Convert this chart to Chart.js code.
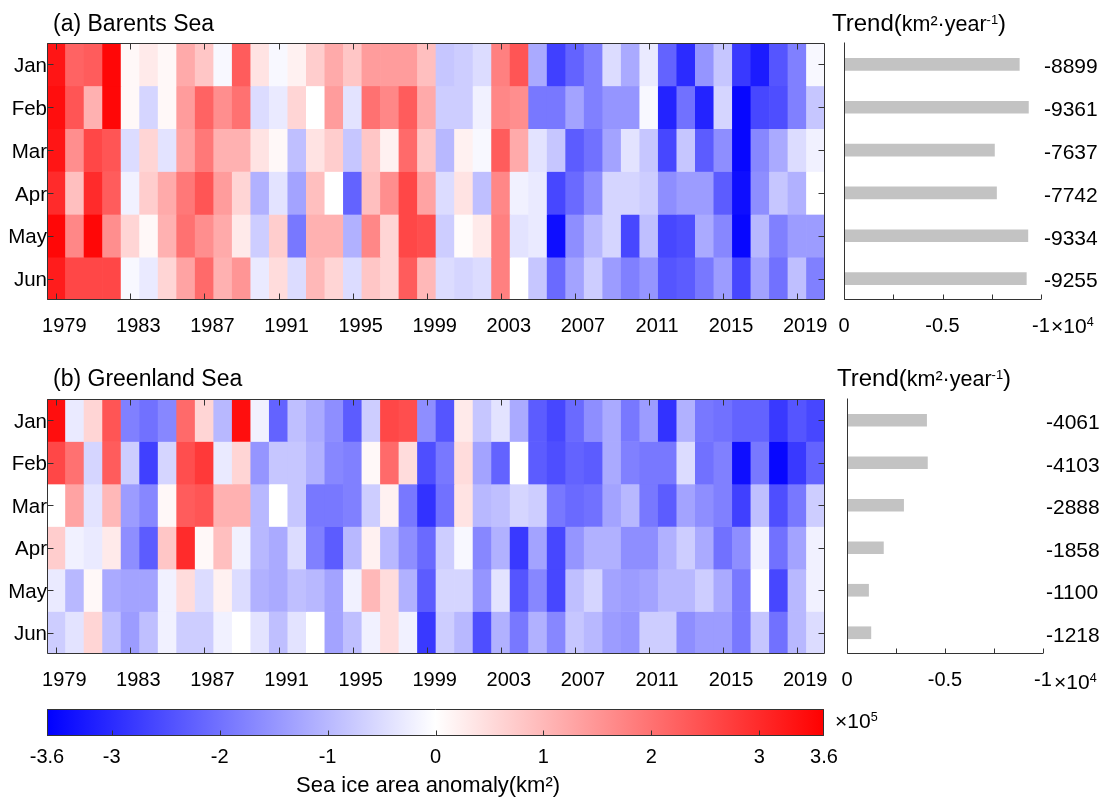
<!DOCTYPE html>
<html>
<head>
<meta charset="utf-8">
<script src="https://cdn.jsdelivr.net/npm/chart.js@4.4.1/dist/chart.umd.min.js"></script>
<style>
  html, body { margin: 0; padding: 0; background: #fff; }
  #page { position: relative; width: 1107px; height: 798px; overflow: hidden; font-family: 'Liberation Sans', Arial, sans-serif; color: #000; }
  canvas { position: absolute; }
  .txt { position: absolute; white-space: nowrap; line-height: 1; }
  sup { font-size: 0.6em; vertical-align: 0.55em; line-height: 0; }
</style>
</head>
<body>
<div id="page">
  <canvas id="heatA" width="840" height="345" style="left:0px;top:0px;"></canvas>
  <canvas id="barA" width="277" height="345" style="left:830px;top:0px;"></canvas>
  <canvas id="heatB" width="840" height="343" style="left:0px;top:356px;"></canvas>
  <canvas id="barB" width="274" height="343" style="left:833px;top:356px;"></canvas>
  <canvas id="cbar" width="900" height="98" style="left:0px;top:700px;"></canvas>

  <div class="txt" style="left:53px;top:12px;font-size:23px;">(a) Barents Sea</div>
  <div class="txt" style="left:832px;top:11px;font-size:24px;">Trend(<span style="font-size:21.5px;">km²·year<sup>-1</sup></span>)</div>
  <div class="txt" style="left:53px;top:367px;font-size:23px;">(b) Greenland Sea</div>
  <div class="txt" style="left:837px;top:366px;font-size:24px;">Trend(<span style="font-size:21.5px;">km²·year<sup>-1</sup></span>)</div>
  <div class="txt" style="left:1051px;top:315px;font-size:21px;">×10<sup>4</sup></div>
  <div class="txt" style="left:1054px;top:671px;font-size:21px;">×10<sup>4</sup></div>
  <div class="txt" style="left:835px;top:710px;font-size:21px;">×10<sup>5</sup></div>
  <div class="txt" style="left:296px;top:774px;font-size:22px;">Sea ice area anomaly(km²)</div>
</div>
<script>
// ---------------- DATA ----------------
const years = [1979,1980,1981,1982,1983,1984,1985,1986,1987,1988,1989,1990,1991,1992,1993,1994,1995,1996,1997,1998,1999,2000,2001,2002,2003,2004,2005,2006,2007,2008,2009,2010,2011,2012,2013,2014,2015,2016,2017,2018,2019,2020];
const months = ['Jan','Feb','Mar','Apr','May','Jun'];

// Sea ice area anomaly (x10^5 km^2), Barents Sea
const barentsJan = [3.3,2.2,2.3,3.5,0.1,0.3,0.1,1.2,0.8,-0.1,2.3,0.4,-0.1,0.2,0.7,1.2,0.8,1.4,1.4,1.4,0.9,-0.8,-0.7,-0.5,1.8,2.4,-1.2,-2.7,-2.2,-1.8,-0.5,-1.2,-0.3,-2.2,-3.0,-1.5,-0.8,-2.8,-3.2,-2.4,-1.8,-0.1];
const barentsFeb = [3.4,2.4,1.1,3.5,0.1,-0.6,0.1,1.4,2.2,1.6,2.0,-0.5,-0.3,0.6,0.0,1.4,-0.4,2.0,1.7,2.3,1.2,-0.7,-0.7,-0.2,1.7,1.6,-1.9,-1.9,-1.3,-1.8,-1.5,-1.5,-0.1,-3.1,-2.0,-3.1,-0.6,-3.5,-2.6,-2.5,-1.8,-0.8];
const barentsMar = [3.3,1.6,2.6,2.4,-0.5,0.6,-0.4,1.3,1.9,1.1,1.1,0.4,0.1,-0.9,0.4,0.7,-0.8,0.8,0.2,2.1,0.8,-1.0,0.2,-0.1,2.3,1.2,-0.4,-0.8,-2.3,-2.0,-1.3,-0.4,-0.8,-2.6,-0.8,-2.3,-1.6,-3.5,-1.7,-1.2,-0.5,-0.2];
const barentsApr = [3.0,0.9,3.0,2.3,-0.2,0.7,1.2,1.9,2.4,1.4,0.6,-1.1,-0.4,-1.3,0.9,0.0,-2.2,0.9,1.6,2.6,1.3,-0.5,0.4,-0.9,1.7,-0.2,-0.3,-2.6,-2.1,-1.6,-0.6,-0.6,-0.7,-1.6,-1.4,-1.4,-2.3,-3.4,-1.6,-0.8,-1.1,0.0];
const barentsMay = [3.5,1.7,3.5,1.6,0.6,0.1,1.1,2.0,1.6,1.2,0.3,-0.7,0.7,-1.9,1.1,1.1,-1.1,1.7,0.6,2.6,2.5,-0.7,0.05,0.3,1.8,-0.4,-0.3,-3.4,-1.6,-1.0,-0.6,-2.6,-0.9,-2.6,-2.5,-1.2,-1.7,-3.5,-1.0,-1.8,-1.4,-1.4];
const barentsJun = [3.2,2.6,2.6,2.6,-0.1,-0.3,0.6,1.3,2.1,1.1,1.5,-0.3,0.5,-0.5,1.0,0.6,-0.5,0.8,0.6,2.3,1.0,-0.5,-0.6,-0.5,1.8,0.0,-0.8,-2.1,-1.3,-0.7,-1.4,-1.8,-1.5,-2.4,-2.3,-1.9,-1.4,-2.6,-1.3,-2.0,-0.9,-1.8];

// Sea ice area anomaly (x10^5 km^2), Greenland Sea
const greenJan = [3.4,-0.3,0.6,2.4,-1.8,-2.0,-1.7,2.1,0.6,-1.0,3.4,-0.2,-2.2,-0.9,-1.2,-1.6,-2.3,-0.7,2.6,2.5,-1.6,-2.4,0.3,-0.8,-0.4,-1.2,-2.3,-2.6,-2.1,-1.6,-1.2,-1.9,-1.4,-2.9,-1.1,-1.9,-2.0,-2.2,-2.2,-2.8,-2.4,-2.6];
const greenFeb = [2.6,2.0,-0.6,2.3,-0.7,-2.7,-0.6,2.5,2.8,-0.3,0.6,-1.5,-0.8,-0.8,-1.1,-1.7,-1.8,0.1,2.1,0.5,-2.5,-1.9,0.5,-1.3,-2.2,0.0,-2.3,-2.5,-2.2,-2.3,-1.2,-1.8,-1.9,-1.9,-0.5,-2.0,-1.8,-3.4,-1.9,-3.5,-2.8,-2.2];
const greenMar = [0.0,1.3,-0.4,1.0,-1.4,-1.7,0.1,2.3,2.4,1.1,1.1,-1.0,0.0,-0.8,-1.9,-1.9,-1.8,-0.7,0.2,-1.9,-2.9,-2.0,0.4,-1.0,-0.9,-0.6,-0.7,-1.9,-2.1,-2.0,-1.3,-1.0,-1.9,-2.3,-1.3,-1.6,-1.8,-2.7,-0.9,-2.5,-1.9,-0.7];
const greenApr = [0.7,-0.2,-0.3,0.3,-1.6,-2.3,0.8,3.0,0.1,0.9,-0.2,-1.0,-1.2,-0.5,-1.8,-2.3,-1.0,0.2,-1.0,-1.6,-2.1,-0.7,-0.1,-1.7,-1.1,-2.8,-1.3,-2.6,-1.5,-1.1,-1.1,-1.6,-1.6,-1.1,-0.7,-1.2,-2.0,-1.6,-0.2,-2.0,-1.3,-0.2];
const greenMay = [-0.3,-1.0,0.1,-1.2,-1.3,-1.3,-0.2,0.5,-0.5,0.2,-0.5,-1.1,-1.2,-0.9,-1.0,-1.3,-0.2,1.0,0.5,-1.1,-2.3,-0.6,-0.6,-1.5,-0.4,-2.4,-1.7,-2.6,-0.9,-0.6,-1.3,-1.4,-1.3,-1.0,-1.0,-0.7,-1.2,-1.9,0.0,-2.6,-1.0,-0.2];
const greenJun = [-0.7,-0.4,0.6,-0.9,-1.4,-0.9,-0.2,-0.7,-0.7,-0.2,0.0,-0.4,-0.9,-0.4,0.0,-1.3,-0.9,-0.2,0.5,-0.2,-2.8,-0.7,-1.0,-2.5,-1.1,-1.9,-1.1,-1.7,-0.8,-1.0,-1.4,-1.5,-0.7,-0.7,-1.6,-1.4,-1.4,-1.9,-0.8,-2.0,-1.0,-0.5];

// Trends (km^2 / year)
const trendBarents = [-8899,-9361,-7637,-7742,-9334,-9255];
const trendGreenland = [-4061,-4103,-2888,-1858,-1100,-1218];

// Axis ticks
const trendTicks = [0,-2500,-5000,-7500,-10000];
const trendTickLabels = {'0':'0','-5000':'-0.5','-10000':'-1'};
const cbTicks = [-3.6,-3,-2,-1,0,1,2,3,3.6];
const cbMin = -3.6, cbMax = 3.6;

// ---------------- RENDER ----------------
const FONT = "'Liberation Sans', Arial, sans-serif";
const AXIS = '#333333';

function anomColor(v) {
  const t = Math.max(-1, Math.min(1, v / cbMax));
  if (t >= 0) { const c = Math.round(255 * (1 - t)); return `rgb(255,${c},${c})`; }
  const c = Math.round(255 * (1 + t)); return `rgb(${c},${c},255)`;
}

const framePlugin = {
  id: 'frame',
  afterDatasetsDraw(chart, args, o) {
    const ctx = chart.ctx, a = chart.chartArea;
    const L = Math.round(a.left) + 0.5, R = Math.round(a.right) - 0.5, T = Math.round(a.top) + 0.5, B = Math.round(a.bottom) - 0.5;
    ctx.save();
    ctx.strokeStyle = AXIS; ctx.lineWidth = 1;
    ctx.beginPath();
    if (o.box) { ctx.rect(L, T, R - L, B - T); }
    if (o.lAxis) { ctx.moveTo(L, T - 1); ctx.lineTo(L, B); ctx.lineTo(R + 0.5, B); }
    const len = o.len || 6;
    (o.xTicks || []).forEach(v => {
      const px = Math.round(chart.scales.x.getPixelForValue(v)) + 0.5;
      ctx.moveTo(px, B); ctx.lineTo(px, B - len);
      if (o.top) { ctx.moveTo(px, T); ctx.lineTo(px, T + len); }
    });
    (o.yTicks || []).forEach(v => {
      const py = Math.round(chart.scales.y.getPixelForValue(v)) + 0.5;
      ctx.moveTo(L, py); ctx.lineTo(L + len, py);
      ctx.moveTo(R, py); ctx.lineTo(R - len, py);
    });
    ctx.stroke();
    ctx.restore();
  }
};

function heatChart(id, rows) {
  const tickIdx = years.map((y, i) => i).filter(i => (years[i] - 1979) % 4 === 0);
  return new Chart(document.getElementById(id), {
    type: 'bar',
    data: {
      labels: years.map(String),
      datasets: months.map((m, mi) => ({
        label: m,
        data: rows[mi].map(() => [mi, mi + 1]),
        backgroundColor: rows[mi].map(anomColor),
        borderWidth: 0,
        barPercentage: 1,
        categoryPercentage: 1,
        grouped: false
      }))
    },
    options: {
      responsive: false, animation: false, devicePixelRatio: 1,
      layout: { padding: { top: 43, right: 15, left: 0, bottom: 0 } },
      plugins: {
        legend: { display: false }, tooltip: { enabled: false },
        frame: { box: true, top: true, len: 6, xTicks: tickIdx, yTicks: months.map((m, i) => i + 0.5) }
      },
      scales: {
        x: {
          type: 'category', offset: true,
          grid: { display: false, drawTicks: false }, border: { display: false },
          ticks: { autoSkip: false, maxRotation: 0, minRotation: 0, padding: 14, labelOffset: 8, color: '#000',
                   font: { family: FONT, size: 20 },
                   callback: (v, i) => ((years[i] - 1979) % 4 === 0 ? String(years[i]) : '') },
          afterFit: s => { s.height = 45; }
        },
        y: {
          type: 'linear', min: 0, max: 6, reverse: true,
          grid: { display: false, drawTicks: false }, border: { display: false },
          afterBuildTicks: s => { s.ticks = months.map((m, i) => ({ value: i + 0.5 })); },
          ticks: { padding: 0, labelOffset: 2, color: '#000', font: { family: FONT, size: 20.5 },
                   callback: v => months[Math.round(v - 0.5)] },
          afterFit: s => { s.width = 47; }
        }
      }
    },
    plugins: [framePlugin]
  });
}

function trendChart(id, vals, padLeft, yWidth) {
  return new Chart(document.getElementById(id), {
    type: 'bar',
    data: {
      labels: vals.map(v => String(v)),
      datasets: [{ data: vals, backgroundColor: '#c3c3c3', barThickness: 12, borderWidth: 0 }]
    },
    options: {
      indexAxis: 'y',
      responsive: false, animation: false, devicePixelRatio: 1,
      layout: { padding: { top: 43, right: 0, left: padLeft, bottom: 0 } },
      plugins: {
        legend: { display: false }, tooltip: { enabled: false },
        frame: { lAxis: true, len: 5, xTicks: trendTicks }
      },
      scales: {
        x: {
          type: 'linear', min: -10000, max: 0, reverse: true,
          grid: { display: false, drawTicks: false }, border: { display: false },
          afterBuildTicks: s => { s.ticks = trendTicks.map(v => ({ value: v })); },
          ticks: { padding: 14, color: '#000', font: { family: FONT, size: 20 },
                   callback: v => trendTickLabels[String(v)] || '' },
          afterFit: s => { s.height = 45; s.paddingLeft = 0; s.paddingRight = 0; }
        },
        y: {
          type: 'category', position: 'right',
          grid: { display: false, drawTicks: false }, border: { display: false },
          ticks: { padding: 3, labelOffset: 3, color: '#000', font: { family: FONT, size: 21 } },
          afterFit: s => { s.width = yWidth; s.paddingTop = 0; s.paddingBottom = 0; }
        }
      }
    },
    plugins: [framePlugin]
  });
}

heatChart('heatA', [barentsJan, barentsFeb, barentsMar, barentsApr, barentsMay, barentsJun]);
heatChart('heatB', [greenJan, greenFeb, greenMar, greenApr, greenMay, greenJun]);
trendChart('barA', trendBarents, 14, 66);
trendChart('barB', trendGreenland, 14, 64);

new Chart(document.getElementById('cbar'), {
  type: 'bar',
  data: {
    labels: [''],
    datasets: [{
      data: [[cbMin, cbMax]],
      backgroundColor: (c) => {
        const ch = c.chart, xs = ch.scales.x;
        if (!ch.chartArea || !xs) return '#fff';
        const g = ch.ctx.createLinearGradient(xs.getPixelForValue(cbMin), 0, xs.getPixelForValue(cbMax), 0);
        g.addColorStop(0, anomColor(cbMin));
        g.addColorStop(0.5, anomColor(0));
        g.addColorStop(1, anomColor(cbMax));
        return g;
      },
      borderWidth: 0, barPercentage: 1, categoryPercentage: 1
    }]
  },
  options: {
    indexAxis: 'y',
    responsive: false, animation: false, devicePixelRatio: 1,
    layout: { padding: { top: 9, right: 76, left: 47, bottom: 0 } },
    plugins: {
      legend: { display: false }, tooltip: { enabled: false },
      frame: { box: true, len: 5, xTicks: cbTicks.filter(v => Number.isInteger(v)) }
    },
    scales: {
      x: {
        type: 'linear', min: cbMin, max: cbMax,
        grid: { display: false, drawTicks: false }, border: { display: false },
        afterBuildTicks: s => { s.ticks = cbTicks.map(v => ({ value: v })); },
        ticks: { padding: 9, color: '#000', font: { family: FONT, size: 20 }, callback: v => String(v) },
        afterFit: s => { s.height = 62; }
      },
      y: { display: false }
    }
  },
  plugins: [framePlugin]
});
</script>
</body>
</html>
